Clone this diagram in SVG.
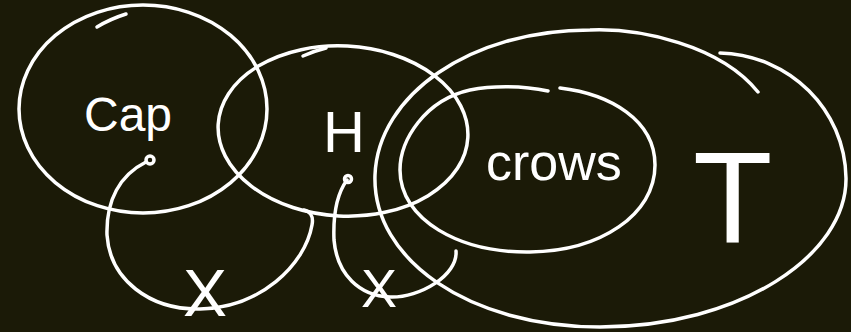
<svg xmlns="http://www.w3.org/2000/svg" width="851" height="332" viewBox="0 0 851 332">
<style>
.s{fill:none;stroke:#ffffff;stroke-width:3.5;stroke-linecap:round;stroke-linejoin:round}
.t{fill:#ffffff;font-family:"Liberation Sans",Arial,sans-serif}
</style>
<rect width="851" height="332" fill="#1b1a07"/>
<g id="cap">
<ellipse class="s" cx="143" cy="109" rx="124" ry="104"/>
<path class="s" d="M97 27 Q110 19 126 14"/>
<text class="t" x="84" y="131" font-size="48">Cap</text>
<circle class="s" cx="150" cy="160" r="4"/>
</g>
<g id="h">
<ellipse class="s" cx="343" cy="131" rx="125" ry="85" transform="rotate(3 343 131)"/>
<path class="s" d="M303 56 Q314 51 326 48"/>
<text class="t" x="323" y="152" font-size="58">H</text>
<circle class="s" cx="348" cy="179" r="3.5"/>
</g>
<g id="t">
<path class="s" d="M758 92 C720 45 640 28 590 30 C470 30 378 95 375 175 C372 260 470 327 600 327 C740 327 847 255 846 178 C845 110 790 55 720 53"/>
<text class="t" x="693" y="243" font-size="130">T</text>
</g>
<g id="crows">
<path class="s" d="M548 91 C520 85 490 86 470 90 C425 100 400 140 400 170 C400 220 460 253 530 252 C600 251 655 215 655 165 C655 120 610 94 560 88"/>
<text class="t" x="486" y="180" font-size="52">crows</text>
</g>
<g id="connectors">
<path class="s" d="M146 162 C120 175 106 200 107 235 C110 280 150 310 200 309 C260 308 305 265 312 225 C314 215 309 211 304 210"/>
<path class="s" d="M347 180 C336 195 333 215 334 240 C337 275 360 296 390 297 C420 298 458 275 456 251"/>
</g>
<g id="labels">
<text class="t" x="183" y="316" font-size="66">X</text>
<text class="t" x="361" y="307" font-size="54">X</text>
</g>
</svg>
